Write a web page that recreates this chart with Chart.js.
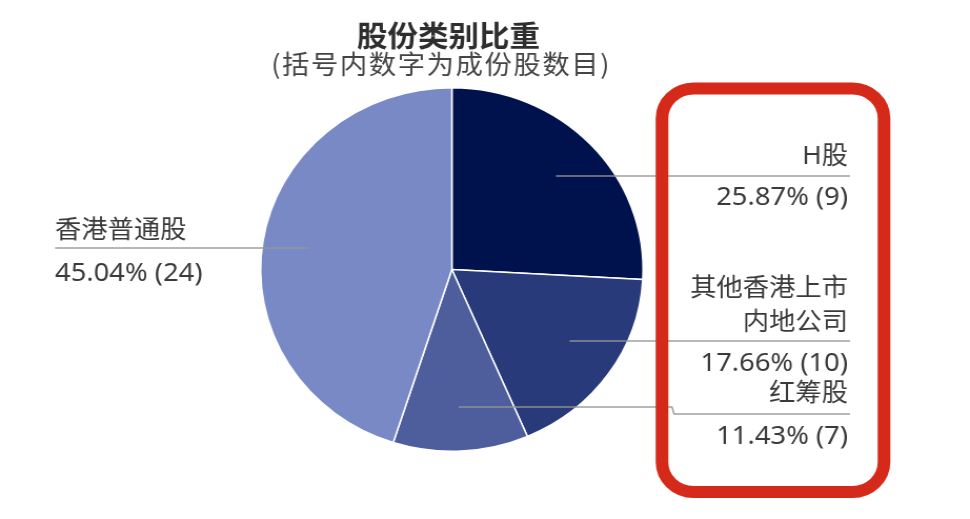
<!DOCTYPE html>
<html><head><meta charset="utf-8">
<script src="https://cdn.jsdelivr.net/npm/chart.js@4.4.1/dist/chart.umd.min.js"></script>
<style>
html,body{margin:0;padding:0;background:#fff;overflow:hidden;width:970px;height:519px;}
#wrap{width:922px;height:519px;transform:scaleX(1.05206);transform-origin:0 0;}
canvas{display:block;}
</style></head><body>
<div id="wrap"><canvas id="c" width="922" height="519"></canvas></div>
<script>
// ---- data ----
const categories = ['H股', '其他香港上市内地公司', '红筹股', '香港普通股'];
const shares = [25.87, 17.66, 11.43, 45.04];
const counts = [9, 10, 7, 24];
const titleText = '股份类别比重';
const subtitleText = '(括号内数字为成份股数目)';

// ---- styles / layout ----
const sliceColors = ['#00124d', '#293a7a', '#4e5e9c', '#7889c6'];
const SX = 970 / 922;
const X = v => v / SX;
const labelLayout = [
  { align: 'right', x: 848, breakAt: 0, nameBase: [164], lineY: 176, path: [[850, 176]], valueBase: 205 },
  { align: 'right', x: 848, breakAt: 6, nameBase: [296, 330], lineY: 341, path: [[850, 341]], valueBase: 371 },
  { align: 'right', x: 848, breakAt: 0, nameBase: [401], lineY: 407, path: [[672, 407], [674, 414], [850, 414]], valueBase: 444 },
  { align: 'left', x: 55, breakAt: 0, nameBase: [238], lineY: 248, path: [[55, 248]], valueBase: 281 }
];

const overlay = {
  id: 'overlay',
  afterDraw(chart) {
    const ctx = chart.ctx;
    const meta = chart.getDatasetMeta(0);
    ctx.save();
    // titles
    ctx.fillStyle = '#2e2e2e';
    ctx.textAlign = 'center';
    ctx.textBaseline = 'middle';
    ctx.font = 'bold 29px "Noto Sans CJK SC"';
    ctx.fillText(titleText, X(448.5), 36);
    ctx.fillStyle = '#444444';
    ctx.font = '26px "Noto Sans CJK SC"';
    ctx.letterSpacing = '1.5px';
    ctx.fillText(subtitleText, X(441), 64);
    ctx.letterSpacing = '0px';

    // leader lines + labels
    meta.data.forEach((arc, i) => {
      const p = arc.getProps(['x', 'y', 'startAngle', 'endAngle', 'outerRadius'], true);
      const mid = (p.startAngle + p.endAngle) / 2;
      const ax = p.x + 0.75 * p.outerRadius * Math.cos(mid);
      const L = labelLayout[i];
      ctx.strokeStyle = 'rgba(150,150,150,0.9)';
      ctx.lineWidth = 1.5;
      ctx.beginPath();
      ctx.moveTo(ax, L.lineY);
      L.path.forEach(([px, py]) => ctx.lineTo(X(px), py));
      ctx.stroke();

      const name = categories[i];
      const lines = L.breakAt ? [name.slice(0, L.breakAt), name.slice(L.breakAt)] : [name];
      ctx.fillStyle = '#3a3a3a';
      ctx.textAlign = L.align;
      ctx.textBaseline = 'alphabetic';
      ctx.font = '25px "Noto Sans", "Noto Sans CJK SC"';
      lines.forEach((t, k) => ctx.fillText(t, X(L.x), L.nameBase[k]));
      ctx.font = '26px "Noto Sans", "Noto Sans CJK SC"';
      ctx.fillText(shares[i].toFixed(2) + '% (' + counts[i] + ')', X(L.x), L.valueBase);
    });

    // red highlight box
    ctx.strokeStyle = '#d52a1a';
    ctx.lineWidth = 12;
    ctx.beginPath();
    ctx.roundRect(X(662), 88.5, X(884) - X(662), 403.5, 30);
    ctx.stroke();
    ctx.restore();
  }
};

new Chart(document.getElementById('c'), {
  type: 'pie',
  data: {
    labels: categories,
    datasets: [{
      data: shares,
      backgroundColor: sliceColors,
      borderColor: '#ffffff',
      borderWidth: 1.5
    }]
  },
  options: {
    responsive: false,
    animation: false,
    layout: { padding: { left: 247, right: 310, top: 87, bottom: 67 } },
    plugins: { legend: { display: false }, tooltip: { enabled: false }, title: { display: false } }
  },
  plugins: [overlay]
});
</script>
</body></html>
